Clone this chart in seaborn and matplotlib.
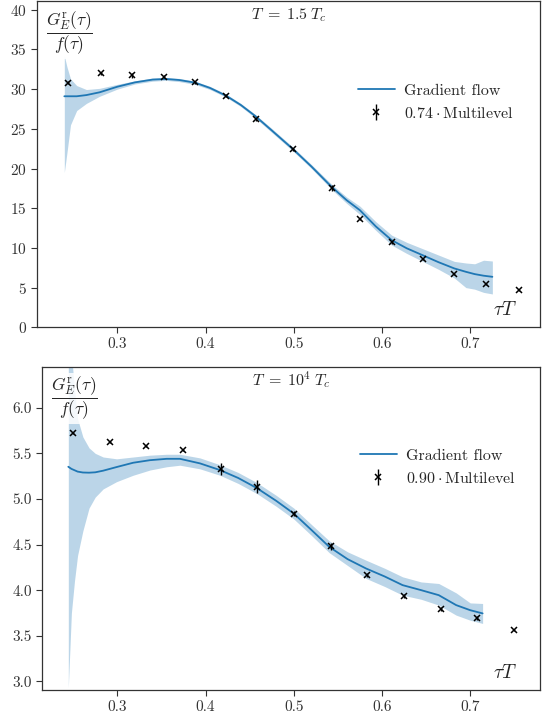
import numpy as np
import matplotlib
matplotlib.use('Agg')
import matplotlib.pyplot as plt
import seaborn as sns

# --- T = 1.5 Tc ---
gf1_x = [0.240, 0.243, 0.247, 0.254, 0.265, 0.280, 0.300, 0.320, 0.340, 0.355, 0.370, 0.388,
         0.405, 0.423, 0.440, 0.456, 0.475, 0.499, 0.520, 0.543, 0.560, 0.575, 0.593, 0.611,
         0.628, 0.646, 0.664, 0.682, 0.695, 0.705, 0.715, 0.725]
gf1_y = [29.10, 29.10, 29.10, 29.10, 29.25, 29.60, 30.30, 30.85, 31.20, 31.28, 31.15, 30.82,
         30.15, 29.19, 28.00, 26.64, 24.80, 22.45, 20.25, 17.67, 16.00, 14.74, 12.70, 10.97,
         9.95, 9.08, 8.20, 7.41, 6.99, 6.70, 6.50, 6.36]
gf1_lo = [19.5, 22.0, 25.5, 27.3, 28.2, 29.1, 30.0, 30.65, 31.0, 31.1, 30.95, 30.6,
          29.95, 29.0, 27.8, 26.4, 24.55, 22.2, 20.0, 17.35, 15.6, 14.2, 12.2, 10.35,
          9.3, 8.3, 7.3, 6.2, 5.0, 4.8, 4.4, 4.2]
gf1_hi = [34.2, 32.8, 31.3, 30.45, 29.95, 30.1, 30.6, 31.05, 31.4, 31.45, 31.35, 31.0,
          30.35, 29.4, 28.2, 26.85, 25.05, 22.7, 20.5, 18.0, 16.4, 15.25, 13.3, 11.6,
          10.7, 9.9, 9.1, 8.3, 8.1, 8.0, 8.45, 8.35]
ml1_x = [0.244, 0.281, 0.317, 0.353, 0.388, 0.423, 0.457, 0.499, 0.543, 0.575, 0.611,
         0.646, 0.682, 0.718, 0.755]
ml1_y = [30.79, 31.99, 31.74, 31.58, 30.86, 29.19, 26.21, 22.41, 17.54, 13.61, 10.72,
         8.58, 6.66, 5.48, 4.65]
ml1_err = [0.2, 0.2, 0.3, 0.2, 0.2, 0.2, 0.2, 0.2, 0.35, 0.15, 0.2, 0.1, 0.1, 0.1, 0.05]

# --- T = 10^4 Tc ---
gf2_x = [0.2445, 0.248, 0.2515, 0.255, 0.261, 0.268, 0.275, 0.284, 0.2993, 0.318, 0.337,
         0.356, 0.371, 0.3937, 0.4163, 0.437, 0.458, 0.480, 0.500, 0.520, 0.5403, 0.561,
         0.582, 0.603, 0.6233, 0.6443, 0.6643, 0.684, 0.700, 0.714]
gf2_y = [5.353, 5.33, 5.315, 5.30, 5.29, 5.288, 5.292, 5.31, 5.35, 5.397, 5.425,
         5.44, 5.44, 5.39, 5.317, 5.23, 5.12, 4.98, 4.84, 4.66, 4.474, 4.34,
         4.237, 4.15, 4.055, 4.00, 3.945, 3.836, 3.78, 3.745]
gf2_lo = [2.93, 3.75, 4.10, 4.38, 4.65, 4.90, 5.02, 5.11, 5.19, 5.26, 5.317,
          5.353, 5.37, 5.33, 5.26, 5.17, 5.06, 4.92, 4.78, 4.60, 4.41, 4.27,
          4.128, 4.04, 3.945, 3.90, 3.836, 3.726, 3.67, 3.635]
gf2_hi = [7.0, 6.6, 6.2, 5.88, 5.68, 5.56, 5.50, 5.46, 5.44, 5.46, 5.48,
          5.49, 5.49, 5.45, 5.375, 5.29, 5.18, 5.04, 4.90, 4.72, 4.54, 4.42,
          4.328, 4.24, 4.146, 4.09, 4.073, 3.97, 3.86, 3.854]
ml2_x = [0.250, 0.292, 0.333, 0.375, 0.417, 0.458, 0.500, 0.542, 0.583, 0.625, 0.667,
         0.708, 0.750]
ml2_y = [5.726, 5.624, 5.58, 5.533, 5.328, 5.134, 4.84, 4.482, 4.168, 3.934, 3.792,
         3.693, 3.566]
ml2_err = [0.01, 0.01, 0.01, 0.01, 0.065, 0.07, 0.03, 0.04, 0.02, 0.02, 0.02, 0.02, 0.01]

sns.set_style('ticks')
plt.rcParams['font.family'] = 'serif'
plt.rcParams['font.serif'] = ['cmr10']
plt.rcParams['mathtext.fontset'] = 'cm'
plt.rcParams['axes.formatter.use_mathtext'] = True
plt.rcParams['axes.unicode_minus'] = False

fig = plt.figure(figsize=(5.52, 7.14), dpi=100)
ax1 = fig.add_axes([0.0676, 0.5416, 0.9107, 0.457])
ax2 = fig.add_axes([0.0766, 0.0336, 0.9016, 0.4528])

panels = [
    (ax1, gf1_x, gf1_y, gf1_lo, gf1_hi, ml1_x, ml1_y, ml1_err, r'$0.74\cdot\mathrm{Multilevel}$',
     r'$T\;=\;1.5\;T_c$', (0.2094, 0.779), (0, 41.1), [0, 5, 10, 15, 20, 25, 30, 35, 40]),
    (ax2, gf2_x, gf2_y, gf2_lo, gf2_hi, ml2_x, ml2_y, ml2_err, r'$0.90\cdot\mathrm{Multilevel}$',
     r'$T\;=\;10^4\;T_c$', (0.215, 0.779), (2.905, 6.45), [3.0, 3.5, 4.0, 4.5, 5.0, 5.5, 6.0]),
]

for ax, gx, gy, glo, ghi, mx, my, merr, mlab, title, xlim, ylim, yticks in panels:
    ax.fill_between(gx, glo, ghi, color='C0', alpha=0.3, linewidth=0, zorder=1)
    sns.lineplot(x=gx, y=gy, ax=ax, color='C0', linewidth=1.3, label='Gradient flow',
                 sort=False, zorder=2)
    ax.errorbar(mx, my, yerr=merr, fmt='x', color='black', markersize=5, mew=1.1,
                elinewidth=1.0, capsize=0, label=mlab, zorder=3)
    ax.set_xlim(*xlim)
    ax.set_ylim(*ylim)
    ax.set_xticks([0.3, 0.4, 0.5, 0.6, 0.7])
    ax.set_xticklabels(['0.3', '0.4', '0.5', '0.6', '0.7'])
    ax.set_yticks(yticks)
    if ylim[1] < 10:
        ax.set_yticklabels([f'{v:.1f}' for v in yticks])
    ax.tick_params(labelsize=11, length=4, width=0.8, colors='0.2', direction='out')
    for sp in ax.spines.values():
        sp.set_color('0.2')
        sp.set_linewidth(0.9)
    ax.text(0.5, 0.957, title, transform=ax.transAxes, ha='center', va='center', fontsize=11.5)
    ax.text(0.017, 0.902, r'$\dfrac{G_E^{\mathrm{r}}(\tau)}{f(\tau)}$', transform=ax.transAxes,
            ha='left', va='center', fontsize=12.5,
            bbox=dict(facecolor='white', alpha=0.85, edgecolor='none', pad=1.5), zorder=5)
    ax.text(0.930, 0.053, r'$\tau T$', transform=ax.transAxes, ha='center', va='center',
            fontsize=14)
    ax.legend(loc='center left', bbox_to_anchor=(0.638, 0.69), frameon=False, fontsize=11.5,
              handlelength=2.3, borderpad=0, borderaxespad=0, handletextpad=0.6,
              labelspacing=0.5)

fig.savefig('out.png', dpi=100)
